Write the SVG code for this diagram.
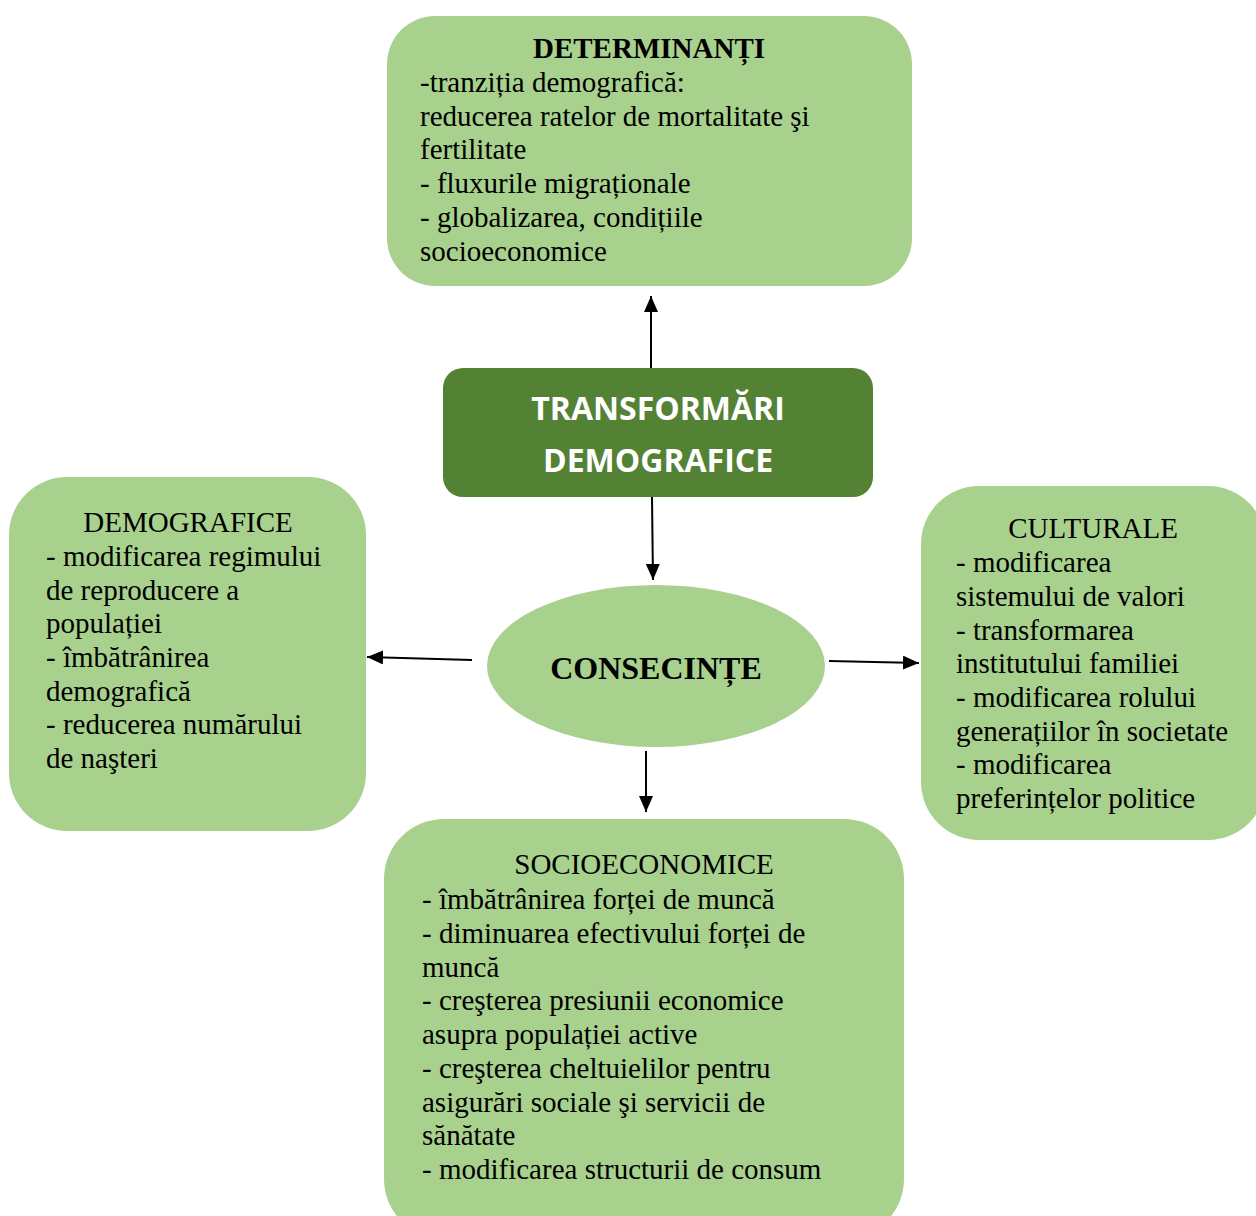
<svg xmlns="http://www.w3.org/2000/svg" width="1256" height="1216" viewBox="0 0 1256 1216">
<defs>
<style>
.box{fill:#a9d18e;}
.t{font-family:"Liberation Serif","Times New Roman",serif;font-size:29px;fill:#000;}
.b{font-weight:bold;}
.c{text-anchor:middle;}
.w{font-family:"Open Sans","Liberation Sans",sans-serif;font-size:32px;font-weight:bold;fill:#fff;text-anchor:middle;}
.edge{stroke:#000;stroke-width:2;fill:none;marker-end:url(#ah);}
</style>
<marker id="ah" viewBox="0 0 16 14" refX="16" refY="7" markerWidth="16" markerHeight="14" markerUnits="userSpaceOnUse" orient="auto"><path d="M0,0 L16,7 L0,14 z" fill="#000"/></marker>
</defs>
<rect width="1256" height="1216" fill="#fff"/>
<g id="connectors">
<line class="edge" x1="651" y1="368" x2="651" y2="296"/>
<line class="edge" x1="652" y1="497" x2="653" y2="580"/>
<line class="edge" x1="472" y1="660" x2="367" y2="657"/>
<line class="edge" x1="829" y1="661" x2="919" y2="663"/>
<line class="edge" x1="646" y1="751" x2="646" y2="812"/>
</g>
<g id="determinanti">
<rect class="box" x="387" y="16" width="525" height="270" rx="48"/>
<text class="t b c" x="649" y="58">DETERMINANȚI</text>
<text class="t" x="420" y="92">-tranziția demografică:</text>
<text class="t" x="420" y="126">reducerea ratelor de mortalitate şi</text>
<text class="t" x="420" y="159">fertilitate</text>
<text class="t" x="420" y="193">- fluxurile migraționale</text>
<text class="t" x="420" y="227">- globalizarea, condițiile</text>
<text class="t" x="420" y="261">socioeconomice</text>
</g>
<g id="transformari">
<rect x="443" y="368" width="430" height="129" rx="20" fill="#548235"/>
<text class="w" x="658" y="420">TRANSFORMĂRI</text>
<text class="w" x="658" y="472">DEMOGRAFICE</text>
</g>
<g id="consecinte">
<ellipse class="box" cx="656" cy="666" rx="169" ry="81"/>
<text class="t b c" x="656" y="679" style="font-size:32px">CONSECINȚE</text>
</g>
<g id="demografice">
<rect class="box" x="9" y="477" width="357" height="354" rx="58"/>
<text class="t c" x="188" y="532">DEMOGRAFICE</text>
<text class="t" x="46" y="566">- modificarea regimului</text>
<text class="t" x="46" y="600">de reproducere a</text>
<text class="t" x="46" y="633">populației</text>
<text class="t" x="46" y="667">- îmbătrânirea</text>
<text class="t" x="46" y="701">demografică</text>
<text class="t" x="46" y="734">- reducerea numărului</text>
<text class="t" x="46" y="768">de naşteri</text>
</g>
<g id="culturale">
<rect class="box" x="921" y="486" width="345" height="354" rx="58"/>
<text class="t c" x="1093" y="538">CULTURALE</text>
<text class="t" x="956" y="572">- modificarea</text>
<text class="t" x="956" y="606">sistemului de valori</text>
<text class="t" x="956" y="640">- transformarea</text>
<text class="t" x="956" y="673">institutului familiei</text>
<text class="t" x="956" y="707">- modificarea rolului</text>
<text class="t" x="956" y="741">generațiilor în societate</text>
<text class="t" x="956" y="774">- modificarea</text>
<text class="t" x="956" y="808">preferințelor politice</text>
</g>
<g id="socioeconomice">
<rect class="box" x="384" y="819" width="520" height="420" rx="60"/>
<text class="t c" x="644" y="874">SOCIOECONOMICE</text>
<text class="t" x="422" y="909">- îmbătrânirea forței de muncă</text>
<text class="t" x="422" y="943">- diminuarea efectivului forței de</text>
<text class="t" x="422" y="977">muncă</text>
<text class="t" x="422" y="1010">- creşterea presiunii economice</text>
<text class="t" x="422" y="1044">asupra populației active</text>
<text class="t" x="422" y="1078">- creşterea cheltuielilor pentru</text>
<text class="t" x="422" y="1112">asigurări sociale şi servicii de</text>
<text class="t" x="422" y="1145">sănătate</text>
<text class="t" x="422" y="1179">- modificarea structurii de consum</text>
</g>
</svg>
